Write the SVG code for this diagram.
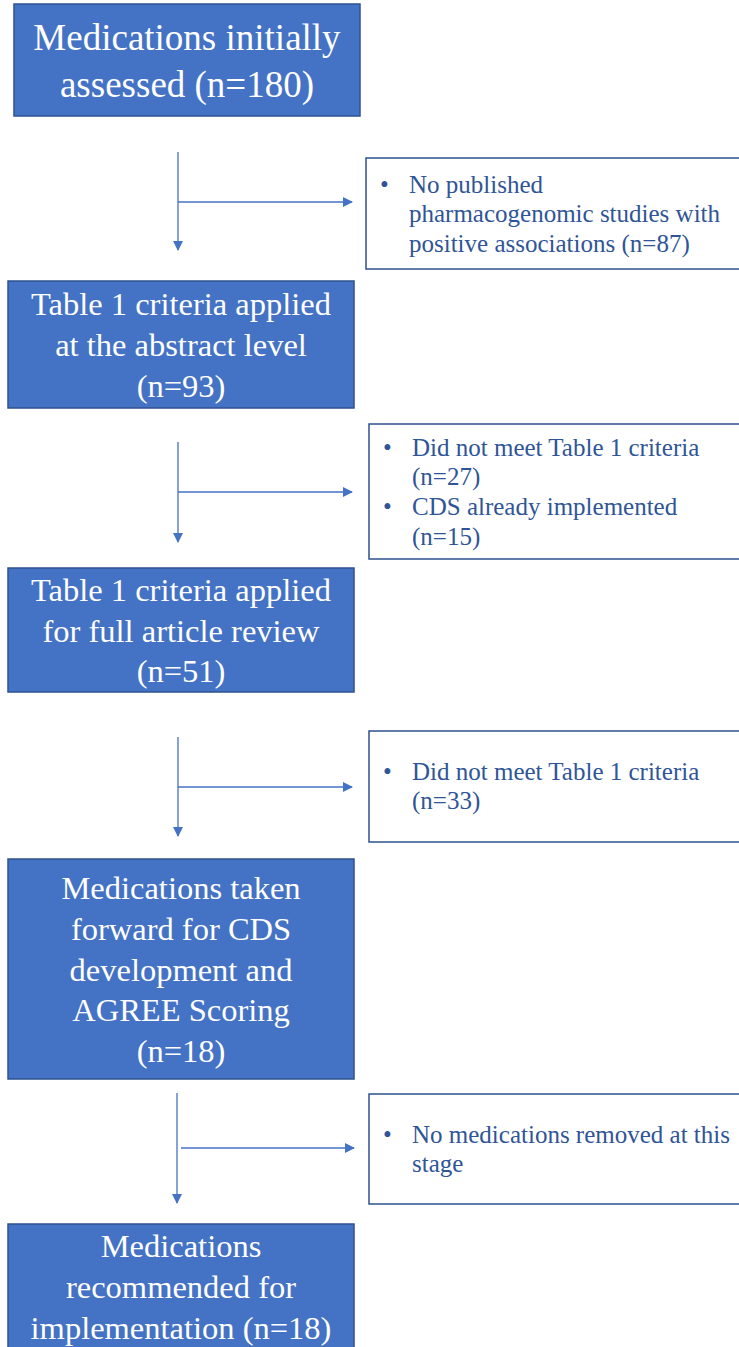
<svg xmlns="http://www.w3.org/2000/svg" width="739" height="1347" viewBox="0 0 739 1347">
<style>
.main{fill:#4472C4;stroke:#2F528F;stroke-width:1.5}
.side{fill:#fff;stroke:#2F528F;stroke-width:1.5}
.mt{fill:#fff;text-anchor:middle}
.st{fill:#2F5597;font-size:25px}
.conn line{stroke:#4472C4;stroke-width:1.3}
</style>
<defs>
<marker id="ah" markerWidth="10" markerHeight="10" refX="9" refY="5" orient="auto" markerUnits="userSpaceOnUse">
<path d="M0,0 L10,5 L0,10 Z" fill="#4472C4"/>
</marker>
</defs>
<rect width="739" height="1347" fill="#fff"/>
<g font-family="'Liberation Serif', Tinos, 'Times New Roman', Times, 'DejaVu Serif', serif">
<g id="n1">
<rect class="main" x="14" y="4" width="346" height="112"/>
<text class="mt" font-size="37" x="187" y="50">Medications initially</text>
<text class="mt" font-size="37" x="187" y="97">assessed (n=180)</text>
</g>
<g id="n2">
<rect class="main" x="8" y="281" width="346" height="127"/>
<text class="mt" font-size="32.5" x="181" y="315">Table 1 criteria applied</text>
<text class="mt" font-size="32.5" x="181" y="356">at the abstract level</text>
<text class="mt" font-size="32.5" x="181" y="397">(n=93)</text>
</g>
<g id="n3">
<rect class="main" x="8" y="568" width="346" height="124"/>
<text class="mt" font-size="32.5" x="181" y="601">Table 1 criteria applied</text>
<text class="mt" font-size="32.5" x="181" y="642">for full article review</text>
<text class="mt" font-size="32.5" x="181" y="682">(n=51)</text>
</g>
<g id="n4">
<rect class="main" x="8" y="859" width="346" height="220"/>
<text class="mt" font-size="32.5" x="181" y="899">Medications taken</text>
<text class="mt" font-size="32.5" x="181" y="940">forward for CDS</text>
<text class="mt" font-size="32.5" x="181" y="981">development and</text>
<text class="mt" font-size="32.5" x="181" y="1021">AGREE Scoring</text>
<text class="mt" font-size="32.5" x="181" y="1062">(n=18)</text>
</g>
<g id="n5">
<rect class="main" x="8" y="1224" width="346" height="130"/>
<text class="mt" font-size="32.5" x="181" y="1257">Medications</text>
<text class="mt" font-size="32.5" x="181" y="1298">recommended for</text>
<text class="mt" font-size="32.5" x="181" y="1339">implementation (n=18)</text>
</g>
<g id="s1">
<rect class="side" x="366" y="158" width="380" height="111"/>
<text class="st" x="380" y="193">•</text>
<text class="st" x="409" y="193">No published</text>
<text class="st" x="409" y="222">pharmacogenomic studies with</text>
<text class="st" x="409" y="252">positive associations (n=87)</text>
</g>
<g id="s2">
<rect class="side" x="369" y="424" width="380" height="135"/>
<text class="st" x="383" y="456">•</text>
<text class="st" x="412" y="456">Did not meet Table 1 criteria</text>
<text class="st" x="412" y="485">(n=27)</text>
<text class="st" x="383" y="515">•</text>
<text class="st" x="412" y="515">CDS already implemented</text>
<text class="st" x="412" y="545">(n=15)</text>
</g>
<g id="s3">
<rect class="side" x="369" y="731" width="380" height="111"/>
<text class="st" x="383" y="780">•</text>
<text class="st" x="412" y="780">Did not meet Table 1 criteria</text>
<text class="st" x="412" y="809">(n=33)</text>
</g>
<g id="s4">
<rect class="side" x="369" y="1094" width="380" height="110"/>
<text class="st" x="383" y="1143">•</text>
<text class="st" x="412" y="1143">No medications removed at this</text>
<text class="st" x="412" y="1172">stage</text>
</g>
</g>
<g class="conn" id="connectors">
<line x1="178" y1="152" x2="178" y2="250" marker-end="url(#ah)"/>
<line x1="178" y1="202" x2="352" y2="202" marker-end="url(#ah)"/>
<line x1="178" y1="442" x2="178" y2="542" marker-end="url(#ah)"/>
<line x1="178" y1="492" x2="352" y2="492" marker-end="url(#ah)"/>
<line x1="178" y1="737" x2="178" y2="836" marker-end="url(#ah)"/>
<line x1="178" y1="787" x2="352" y2="787" marker-end="url(#ah)"/>
<line x1="177" y1="1093" x2="177" y2="1203" marker-end="url(#ah)"/>
<line x1="181" y1="1148" x2="354" y2="1148" marker-end="url(#ah)"/>
</g>
</svg>
